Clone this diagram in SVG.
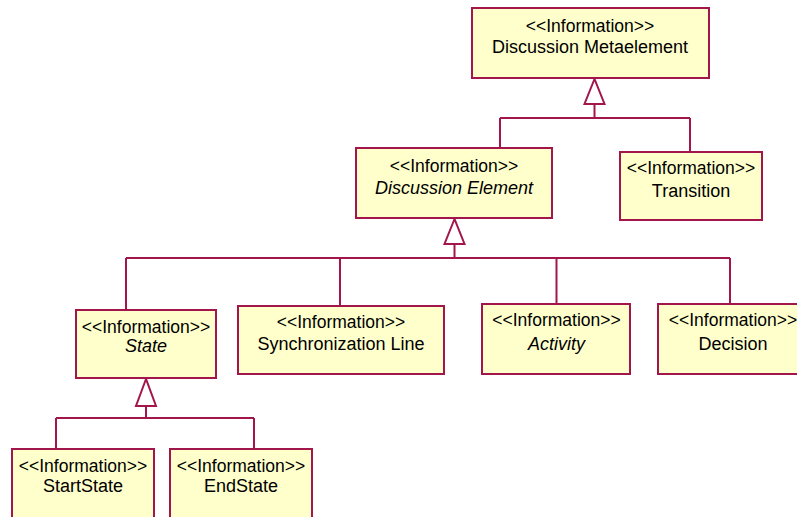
<svg xmlns="http://www.w3.org/2000/svg" width="797" height="517" viewBox="0 0 797 517">
  <style>
    .box { fill: #FFFFCC; stroke: #A3164B; stroke-width: 2; }
    .edge { fill: none; stroke: #A3164B; stroke-width: 2; }
    .head { fill: #FFFFFF; stroke: #A3164B; stroke-width: 2; stroke-linejoin: miter; }
    text { font-family: "Liberation Sans", Arial, sans-serif; font-size: 18px; fill: #000000; text-anchor: middle; }
    .stereo { font-size: 17.5px; }
    .abstract { font-style: italic; }
  </style>
  <rect width="797" height="517" fill="#FFFFFF"/>

  <!-- generalization connectors -->
  <g id="connectors">
    <!-- Discussion Metaelement children -->
    <path class="edge" d="M594.5 104 V118 M500 118 H690 M500 118 V148 M690 118 V152"/>
    <polygon class="head" points="594.5,79 584.5,104 604.5,104"/>
    <!-- Discussion Element children -->
    <path class="edge" d="M454.5 244 V258 M126 258 H730 M126 258 V310 M340 258 V306 M556.5 258 V304 M730 258 V304"/>
    <polygon class="head" points="454.5,219 444.5,244 464.5,244"/>
    <!-- State children -->
    <path class="edge" d="M146 406 V418 M56 418 H254 M56 418 V449 M254 418 V449"/>
    <polygon class="head" points="146,379 136,406 156,406"/>
  </g>

  <g id="discussion-metaelement">
    <rect class="box" x="472" y="8" width="237" height="70"/>
    <text class="stereo" x="590" y="32">&lt;&lt;Information&gt;&gt;</text>
    <text x="590" y="53">Discussion Metaelement</text>
  </g>

  <g id="discussion-element">
    <rect class="box" x="356" y="148" width="196" height="70"/>
    <text class="stereo" x="454" y="172">&lt;&lt;Information&gt;&gt;</text>
    <text class="abstract" x="454" y="194">Discussion Element</text>
  </g>

  <g id="transition">
    <rect class="box" x="620" y="152" width="142" height="68"/>
    <text class="stereo" x="691" y="174">&lt;&lt;Information&gt;&gt;</text>
    <text x="691" y="197">Transition</text>
  </g>

  <g id="state">
    <rect class="box" x="76" y="310" width="140" height="68"/>
    <text class="stereo" x="146" y="333">&lt;&lt;Information&gt;&gt;</text>
    <text class="abstract" x="146" y="352">State</text>
  </g>

  <g id="synchronization-line">
    <rect class="box" x="238" y="306" width="206" height="68"/>
    <text class="stereo" x="341" y="328">&lt;&lt;Information&gt;&gt;</text>
    <text x="341" y="350">Synchronization Line</text>
  </g>

  <g id="activity">
    <rect class="box" x="482" y="304" width="148" height="70"/>
    <text class="stereo" x="556.5" y="326">&lt;&lt;Information&gt;&gt;</text>
    <text class="abstract" x="556.5" y="350">Activity</text>
  </g>

  <g id="decision">
    <rect class="box" x="658" y="304" width="150" height="70"/>
    <text class="stereo" x="733" y="326">&lt;&lt;Information&gt;&gt;</text>
    <text x="733" y="350">Decision</text>
  </g>

  <g id="start-state">
    <rect class="box" x="12" y="449" width="142" height="80"/>
    <text class="stereo" x="83" y="472">&lt;&lt;Information&gt;&gt;</text>
    <text x="83" y="492">StartState</text>
  </g>

  <g id="end-state">
    <rect class="box" x="170" y="449" width="142" height="80"/>
    <text class="stereo" x="241" y="472">&lt;&lt;Information&gt;&gt;</text>
    <text x="241" y="492">EndState</text>
  </g>
</svg>
